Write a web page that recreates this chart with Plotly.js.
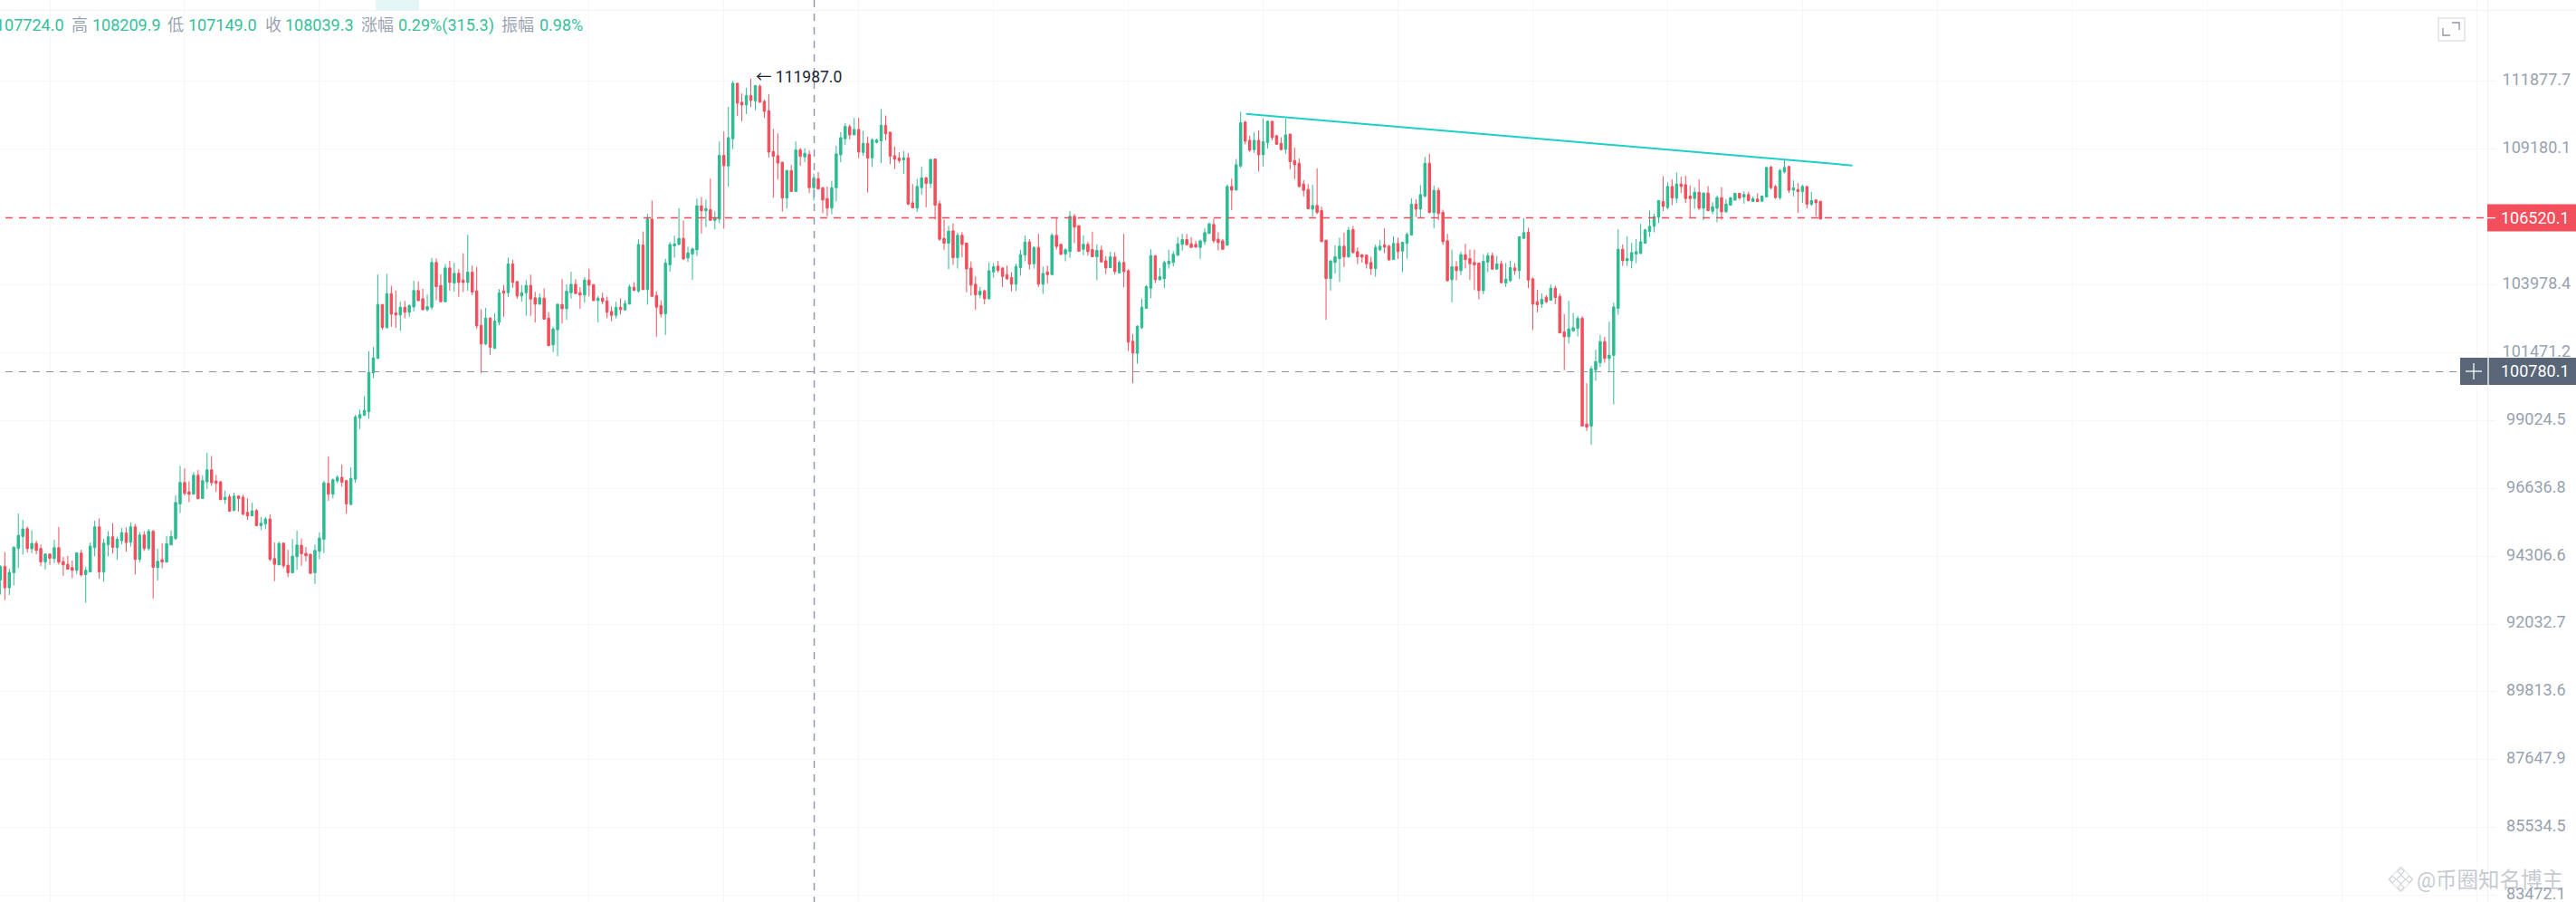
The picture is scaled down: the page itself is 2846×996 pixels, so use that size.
<!DOCTYPE html>
<html>
<head>
<meta charset="utf-8">
<script src="https://cdn.plot.ly/plotly-3.0.1.min.js"></script>
<style>html,body{margin:0;padding:0;background:#fff;overflow:hidden}#chart{width:2846px;height:996px}</style>
</head>
<body>
<div id="chart"></div>
<script>
// G = close above open, R = close below open
const candleColours = `
G R G G G G R G R R  G R G R R R R G R G  G G R G G R G G R G  R G R G R G R G G G
G R R G R G G R R R  G R G R R R G R G G  R R G R R G G R R R  G G G R G G R R G G
G G G G G R G R R G  R G G R R G G R R G  R G R R G R R R G R  G G R G R R G G R R
G R R G G R G G R R  G R R G R R R G R G  G R G R G R R R G G  G G R G G G R G R G
G R G G R R G R G R  R R R R R G R G R G  R G R R R G G G G R  G R G R G G G R R R
R G R R G G R G R R  R G R G R R R R G R  G G R R R R G G G R  G R G R G R R G G R
R G R R G R R G R G  R R R G G G G R G G  G G G G R R R G G G  R R R G R G G R R G
R G G R R R G R R R  R R G R R R G G G R  G R R R R R G G R R  G R G G G R G G R G
R R R G R G R R R R  G G R G R G G R G G  R R R G R G R R R G  G G R R G G G R G G
G R G G G G G G G G  R G R G R R R G R G  R G G R G G G R G R  G R G G R R G G R G
R G R G R R`.trim().split(/\s+/);

const highs = [
94003,94444,93881,94649,95766,95548,95320,95195,94834,94711,94403,94392,94865,95309,94279,94321,94156,94423,94526,93952,
94772,95517,95600,94896,95164,95434,94968,95268,95288,95465,95413,95133,95164,95237,95206,94557,94752,94988,95185,96392,
97423,97338,96885,97200,97274,97095,97890,97773,97105,96895,96560,96434,96486,96392,96413,96287,96140,95922,95652,95652,
95745,94772,94803,94762,94526,94896,95175,94906,94618,94382,94698,
95123,96906,97752,96980,97097,97466,96938,97371,99228,99411,99897,101527,101681,104366,103261,104389,103948,103768,103351,103384,
103261,104139,104106,103835,103621,104992,104970,104378,104765,104890,104810,104571,105175,105874,104708,104652,103070,103126,102770,102925,
103824,103970,105004,104924,104117,103970,104162,104366,103723,103655,103847,102970,102435,103284,104196,104004,104470,104196,103892,104275,
104583,104004,103565,103689,103543,103171,103351,103475,
103408,103993,104084,105701,106000,106682,107182,103746,103408,104958,105598,105839,106891,106413,105415,105392,107263,107321,107216,108035,
106775,109486,109878,110864,111904,111807,111395,111625,111987,111722,111759,111153,111371,109986,109806,108704,108375,108563,109486,109238,
109214,109131,108234,108293,107695,107730,107953,109320,109854,110215,110167,110419,110431,109915,109676,109617,109593,110768,110515,109866,
109285,109060,109119,109036,107824,108023,108493,108106,108787,
108801,107181,106451,106220,106312,105955,105978,105576,104867,104298,103903,103802,104821,104786,104878,104638,104706,104457,104775,105301,
105851,105702,105427,105909,104672,104706,105932,106543,105519,105358,106785,106670,106231,105851,105610,105990,105507,105461,105061,105233,
105210,104901,105909,104569,102158,102480,103463,103971,105324,105107,104615,104901,105301,105244,105782,105909,105909,105782,105644,105690,
106128,106347,106485,105966,105713,107799,108033,108801,
110670,110312,109714,109857,109929,110395,110312,110288,109750,109654,110395,109809,109239,108824,107976,107824,107789,108434,106949,105680,
104923,105473,105760,105955,106174,106209,105393,105129,105118,105037,105496,105668,106116,105496,105817,105760,105611,105955,107273,107238,
107777,108884,109002,107765,107683,106833,105909,105312,104877,105221,105530,105312,105312,104821,105118,105198,105198,105072,104900,104798,
104900,104798,105806,106509,106139,104254,103800,103666,103598,
103993,103948,103654,102892,103384,102936,102825,102825,100365,100998,101581,102123,102057,102613,103316,106081,105505,105816,105562,105712,
106288,106104,106797,106680,107205,108129,107894,108000,108270,108105,108153,107765,107683,108000,107496,107741,107123,107380,107706,107240,
107333,107485,107473,107543,107531,107345,107473,107368,108494,108529,107788,108412,108788,108529,107964,107859,107800,107741,107520,107217,107170
];

const bodyTops = [
93952,93962,93759,94608,95019,95237,95247,94742,94742,94567,94382,94382,94598,94598,94125,94033,93921,94423,94413,93830,
94649,95309,95309,94752,94968,94968,94885,95112,95102,95309,95309,95029,95029,95154,95154,94136,94187,94731,94978,96150,
96843,96843,96518,97095,97095,96906,97285,97285,96895,96864,96329,96350,96371,96371,96329,95807,95859,95870,95434,95579,
95579,94227,94742,94752,94003,94310,94690,94680,94403,94372,94505,
94926,96832,96811,96938,97022,97022,96906,96990,99153,99239,99390,100758,101285,103250,103250,103655,103655,102937,103148,103148,
103205,103768,103768,103464,103171,104822,104822,103959,104617,104617,104412,104412,104162,104458,104458,103757,102480,102747,102747,102636,
103689,103757,104765,104765,104106,103689,103959,103959,103498,103498,103487,102747,102346,103261,103250,103746,104004,104004,103689,104162,
104162,103993,103487,103487,103384,102992,103148,103148,
103285,103903,103892,105506,105483,106496,106473,103588,103206,104799,105506,105529,105736,105736,105185,105334,106984,106984,106879,106833,
106519,108941,108941,109640,111807,111807,111044,111310,111310,111710,111686,111081,110707,109095,108929,108669,108352,108352,109154,109154,
109024,108977,108047,108035,107683,107263,107683,109000,109640,110082,110070,109961,109961,109415,109415,109546,109546,110130,110118,109854,
108929,108835,108846,108846,107100,107730,108059,108059,108787,
108801,107064,105736,106013,106024,105851,105851,105553,104615,104005,103745,103757,104513,104661,104684,104615,104366,104253,104672,105118,
105599,105599,105393,105393,104411,104468,105851,105851,105507,105301,106578,106578,106220,105507,105507,105313,105278,105290,104889,105038,
105027,104821,104821,104513,101892,102447,103150,103915,105084,105073,104287,104821,104867,105130,105530,105690,105690,105530,105507,105644,
105955,106289,106266,105702,105644,107729,107729,108576,
110228,110252,109535,109535,109535,109476,110288,110288,109714,109416,109750,109773,108741,108635,107824,107613,106995,106995,106798,105668,
104877,105037,105439,105439,106047,106070,105232,105118,105095,104821,105393,105439,105496,105439,105542,105542,105588,105886,107041,107041,
107414,108635,108635,107578,107578,106729,105645,104662,104662,105118,105118,104968,104821,104798,104866,105083,105083,104764,104775,104197,
104628,104617,105795,105955,105966,104208,103352,103442,103520,
103857,103857,103552,102234,102346,102391,102736,102736,98904,100889,101152,101880,101880,101384,103159,105323,105323,104969,105197,105231,
105609,106058,106196,106565,107182,107147,107730,107730,107823,107823,107800,107357,107508,107508,107473,107473,106948,107298,107298,107053,
107287,107462,107462,107415,107415,107252,107240,107357,108470,108482,107730,108353,108470,108506,107671,107613,107730,107730,107182,107205,107158
];

const bodyBottoms = [
93505,93241,93241,93749,94567,94978,94567,94557,94505,94115,94115,94238,94227,94104,94013,93870,93830,93830,93677,93688,
93779,94598,93779,93769,94700,94608,94598,94834,94772,94783,94197,94197,94567,94567,93931,93921,94115,94104,94690,94906,
96098,96465,96434,96434,96276,96287,96864,96832,96811,96245,96245,95849,95870,96287,95745,95683,95683,95351,95351,95413,
94207,94033,94013,93982,93749,93749,94290,94392,94321,93728,93749,
94473,94885,96433,96433,96896,96854,96099,96078,96959,99110,99207,99346,100736,101263,102401,102390,102892,102859,102859,102959,
102959,103160,103396,103058,103058,103148,103914,103351,103351,104072,104049,104072,104072,104072,103712,102457,101792,101792,101670,101637,
102591,103666,103689,104072,103565,103565,103689,103453,103261,103261,102703,101736,101759,102313,103093,103093,103689,103655,103599,103599,
103970,103396,103396,103362,102959,102848,102848,103058,
103048,103262,103779,103746,103802,103802,103554,103150,102902,102902,104731,105449,105506,104957,104992,105139,105300,106792,106792,106426,
106426,106473,108539,108528,109593,111008,110936,110936,111117,111093,111044,110683,109072,108906,108645,107286,107286,107531,107531,108906,
108882,107683,107683,107636,107205,106891,106891,107683,108965,109593,109747,109747,109072,109060,108835,108846,109451,109510,109794,108906,
108787,108740,108763,107054,106903,106891,107683,107847,107847,
107006,105702,105553,105553,105004,105004,105507,104581,103971,103610,103610,103463,103463,104468,104524,104298,104208,104005,104005,104626,
105107,104763,104775,104005,104005,104366,104366,105427,105130,105141,105233,106163,105244,105324,105233,105038,105038,104844,104615,104626,
104479,104434,104479,101858,101460,101449,102390,103105,103859,104174,104174,104208,104775,104821,105095,105507,105496,105393,105404,105393,
105610,105920,105644,105576,105324,105473,107589,107589,
108528,109499,109144,109168,108966,108966,109440,109642,109381,109168,109180,108694,108576,107730,107578,106868,106856,106729,105611,104220,
104220,104821,104968,105037,105037,105198,105037,105026,104775,104594,104594,105301,105404,104923,104934,105232,105255,105542,105863,106856,
106856,107355,106729,106718,106683,105611,104140,104174,104514,104514,104934,104775,104730,103766,103766,104832,104571,104571,104061,104049,
104140,104514,104514,105737,104163,103262,103240,103262,103352,
103406,103508,102201,102057,102057,102278,102366,98829,98797,98829,100845,101107,101263,101263,101373,103103,104889,104889,104889,105140,
105163,105551,106000,106196,106542,106960,106913,107287,107275,107730,107263,107263,107263,106890,106890,106797,106773,106890,106750,106750,
107007,107205,107287,107322,107182,107147,107147,107158,107322,107683,107298,107298,108294,107578,107590,107531,107531,107042,107042,107100,106473
];

const lows = [
93017,92835,92997,93322,93911,94362,94434,94413,94372,93972,93850,94013,94074,94023,93647,93850,93566,93708,93616,92743,
93769,94310,93545,93444,94300,94403,94187,94711,94464,94629,93688,94094,94485,94495,92875,93484,93901,94104,94690,94865,
95787,96392,96161,96434,96276,96287,96622,96727,96518,96245,96098,95828,95870,95838,95704,95548,95683,95330,95195,95226,
94136,93464,94003,93901,93596,93728,93850,93982,94136,93698,93373,
94207,94411,96203,96287,96811,96695,95763,96047,96832,98722,99207,99088,100551,101263,102313,102368,102424,102379,102268,102736,
102791,102992,103362,103036,102992,103048,103408,103329,103351,103768,103723,103532,103712,103757,103599,102346,100725,101747,101395,101604,
102480,102791,103532,103869,103464,103351,102825,102825,102580,103250,102692,101703,101494,101351,102547,102680,103464,103655,103093,103317,
103554,103373,102591,103261,102736,102625,102736,102881,
103048,103262,103746,103689,103802,103240,103521,102058,102769,102125,104481,105003,105483,104912,104844,104163,105071,105920,106172,106413,
106080,106310,106103,107718,109190,110491,110286,110575,110852,110732,111032,110419,108858,107298,108000,106763,106879,107519,107531,108539,
108680,107472,107182,107613,106704,106577,106658,107147,108669,109344,109569,109747,108835,108918,107495,108481,109415,108645,109534,108598,
108410,108645,108223,107007,106891,106751,107414,106926,107671,
106451,105644,105301,104569,104729,104592,105015,103700,103576,103050,103485,103262,103441,104253,104445,103903,104163,103734,103757,104321,
104867,104558,104592,103903,103644,104027,104366,105313,105095,104867,104992,105553,105233,105095,105073,105038,104152,104821,104389,104615,
104366,104411,103892,101538,100364,101073,102346,103105,103485,104050,104152,103859,104592,104672,105073,105267,105473,105393,105393,104958,
105484,105909,105553,105278,105301,105461,106820,107577,
108445,109381,109085,109038,108316,108505,109215,109535,109357,109144,109002,108398,108012,107683,107343,106844,106567,106660,105599,102680,
103766,104401,104095,104650,104991,105163,104764,104821,104594,104356,104288,105255,105175,104877,104934,104957,104458,104968,105852,106567,
106521,107296,106683,106116,106429,105485,104095,103330,104151,104344,104594,104163,103778,103442,103632,104458,104560,104571,104049,103902,
104083,104356,104208,105737,103857,102300,102960,103122,103296,
103395,103260,102189,100835,101814,102234,102068,98818,98657,98164,100452,100955,101107,100791,99605,102868,104693,104681,104602,104795,
105140,105528,105793,105966,106323,106774,106855,107007,107077,107473,107088,106507,106867,106820,106427,106773,106657,106346,106450,106727,
106983,107170,107217,107065,107147,107135,107123,107158,107310,107613,107252,107217,108235,107473,107345,106715,107088,106878,106983,106576,106473
];

const priceTicks = [111877.7,109180.1,106547,103978.4,101471.2,99024.5,96636.8,94306.6,92032.7,89813.6,87647.9,85534.5,83472.1];
const priceTickLabels = ["111877.7","109180.1","","103978.4","101471.2","\u00A099024.5","\u00A096636.8","\u00A094306.6","\u00A092032.7","\u00A089813.6","\u00A087647.9","\u00A085534.5","\u00A083472.1"];
const lastPrice = 106520.1;
const crosshairPrice = 100780.1;
const highLabel = "← 111987.0";
const trendX = [266.2, 401.1];
const trendY = [110583, 108548];
const crosshairBar = 170.1;
const headerItems = [
  ["107724.0",-4.5,1],["高",79.5,0],["108209.9",102,1],["低",186,0],["107149.0",208.5,1],["收",293,0],["108039.3",315.6,1],
  ["涨幅",399.5,0],["0.29%(315.3)",440,1],["振幅",554,0],["0.98%",596,1]
];

const W = 2846, H = 996, plotW = 2748;
const FONT = 'Roboto, "Noto Sans CJK SC", sans-serif';
const GREEN = '#2DBB92', RED = '#F24E5B', GREY = '#8B94A7', TICK = '#98A2AF';
const px = x => x / plotW, py = y => 1 - y / H;
const firstBar = -11;
const barIdx = highs.map((_, i) => i + firstBar);
const opens = candleColours.map((c, i) => c === 'G' ? bodyBottoms[i] : bodyTops[i]);
const closes = candleColours.map((c, i) => c === 'G' ? bodyTops[i] : bodyBottoms[i]);
const xLeft = -55 / 4.965, xRight = (plotW - 55) / 4.965;
const yTop = 115207, yBot = 83272;

const traces = [
  {type:'candlestick', x:barIdx, open:opens, high:highs, low:lows, close:closes, hoverinfo:'skip', showlegend:false,
   increasing:{line:{color:GREEN,width:1},fillcolor:GREEN}, decreasing:{line:{color:RED,width:1},fillcolor:RED}},
  {type:'scatter', mode:'lines', x:[-9.87,xRight], y:[crosshairPrice,crosshairPrice], line:{color:GREY,width:1.2,dash:'8px,7px'}, hoverinfo:'skip', showlegend:false},
  {type:'scatter', mode:'lines', x:[-9.87,xRight], y:[lastPrice,lastPrice], line:{color:RED,width:1.5,dash:'8px,7px'}, hoverinfo:'skip', showlegend:false},
  {type:'scatter', mode:'lines', x:[crosshairBar,crosshairBar], y:[yTop,yBot], line:{color:GREY,width:1.4,dash:'8px,7px'}, hoverinfo:'skip', showlegend:false},
  {type:'scatter', mode:'lines', x:trendX, y:trendY, line:{color:'#1CCFC8',width:2}, hoverinfo:'skip', showlegend:false}
];

const rect = (x0,y0,x1,y1,fill,line) => ({type:'rect',xref:'paper',yref:'paper',x0:px(x0),x1:px(x1),y0:py(y1),y1:py(y0),fillcolor:fill,line:line||{width:0},layer:'above'});
const seg = (x0,y0,x1,y1,color,width) => ({type:'line',xref:'paper',yref:'paper',x0:px(x0),x1:px(x1),y0:py(y0),y1:py(y1),line:{color,width},layer:'above'});
const poly = (pts,color,width,closed) => ({type:'path',xref:'paper',yref:'paper',
  path:pts.map((p,i)=>(i?'L':'M')+px(p[0])+','+py(p[1])).join(' ')+(closed?' Z':''),line:{color,width},layer:'above'});
const diamond = (cx,cy,r,color) => poly([[cx,cy-r],[cx+r,cy],[cx,cy+r],[cx-r,cy]],color,1.2,true);

const LOGO = '#D3D6DC';
const shapes = [
  seg(0,11.6,W,11.6,'#F1F2F5',1),
  rect(415,0,463,11,'#E4F5F5'),
  rect(2694,20,2723,45,'rgba(0,0,0,0)',{color:'#DFE2E6',width:1.5}),
  poly([[2699,31],[2699,39],[2707,39]],'#8B94A7',1.3),
  poly([[2709,25],[2717,25],[2717,33]],'#8B94A7',1.3),
  rect(2748,225.5,W,255.4,'#F24E5B'),
  seg(2748,240.6,2757,240.6,'#FFFFFF',1.3),
  rect(2718,395,W,425,'#586678'),
  seg(2749,395,2749,425,'#FFFFFF',1.3),
  seg(2724,410,2742,410,'#FFFFFF',1.3),
  seg(2733,401,2733,419,'#FFFFFF',1.3),
  diamond(2652.5,971,5,LOGO), diamond(2652.5,962,3.6,LOGO), diamond(2652.5,980,3.6,LOGO),
  diamond(2643.5,971,3.6,LOGO), diamond(2661.5,971,3.6,LOGO),
  poly([[2639,971],[2652.5,957],[2666,971],[2652.5,985]],LOGO,1,true)
];

const NOTE_INSET = 2.5;
const note = (text,x,y,size,color) => ({xref:'paper',yref:'paper',x:px(x-NOTE_INSET),y:py(y),text,showarrow:false,xanchor:'left',yanchor:'middle',align:'left',font:{family:FONT,size,color}});
const annotations = headerItems.map(h => note(h[0],h[1],27.7,18,h[2]?'#35C09A':'#9AA3B2'));
annotations.push(note(highLabel,835,85,17.5,'#1D2433'));
annotations.push(note(String(lastPrice),2763,240,18,'#FFFFFF'));
annotations.push(note(String(crosshairPrice),2763,409.5,18,'#FFFFFF'));
annotations.push(note('@币圈知名博主',2670,971.5,23.5,'rgba(160,166,178,0.6)'));

const layout = {
  width:W, height:H, margin:{l:0,r:W-plotW,t:0,b:0,pad:0}, autosize:false,
  paper_bgcolor:'#FFFFFF', plot_bgcolor:'#FFFFFF', showlegend:false, dragmode:false, hovermode:false,
  font:{family:FONT},
  xaxis:{type:'linear', range:[xLeft,xRight], rangeslider:{visible:false}, showticklabels:false, ticks:'',
    tick0:0, dtick:30, showgrid:true, gridcolor:'#F6F7F9', gridwidth:1, zeroline:false, showline:false, fixedrange:true},
  yaxis:{type:'log', side:'right', range:[Math.log10(yBot),Math.log10(yTop)], tickmode:'array', tickvals:priceTicks, ticktext:priceTickLabels,
    tickfont:{family:FONT,size:18,color:TICK}, ticks:'outside', ticklen:9, tickcolor:'#F3F4F6', tickwidth:1, ticklabelstandoff:3, ticklabeloverflow:'allow',
    showgrid:true, gridcolor:'#F6F7F9', gridwidth:1, zeroline:false, showline:true, linecolor:'#F1F2F5', linewidth:1, fixedrange:true, automargin:false},
  shapes, annotations
};
Plotly.newPlot('chart', traces, layout, {displayModeBar:false, staticPlot:true}).then(() => {
  // the reference's price labels sit about 2px above their gridlines
  document.querySelectorAll('.ytick text').forEach(t => t.setAttribute('dy', '-2'));
});
</script>
</body>
</html>
